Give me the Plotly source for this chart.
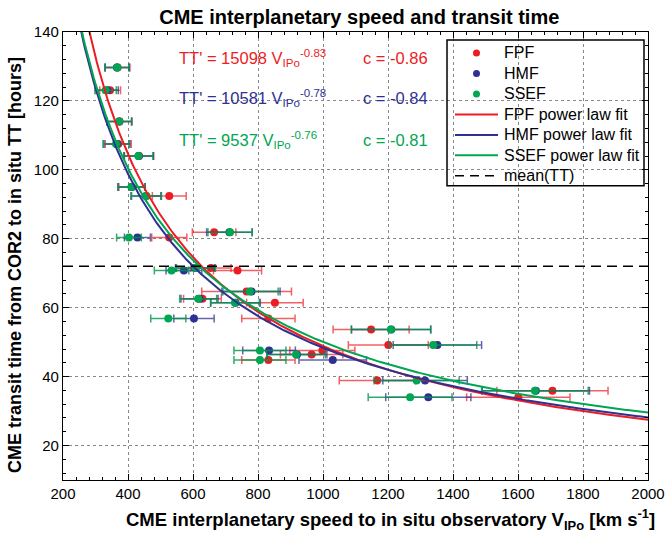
import numpy as np
import plotly.graph_objects as go

# ---- data ----
tt = [129.7, 123.1, 114.0, 107.5, 104.0, 95.0, 92.4, 81.9, 80.4, 71.5, 70.8, 64.7,
      62.6, 61.4, 56.9, 53.7, 49.2, 47.6, 46.4, 44.8, 38.9, 35.9, 34.0]
v_fpf = [368, 345, 374, 370, 434, 412, 527, 665, 527, 655, 737, 765,
         629, 852, 832, 1148, 1201, 998, 965, 832, 1167, 1706, 1601]
v_hmf = [366, 336, 373, 366, 433, 411, 455, 712, 429, 606, 572, 780,
         620, 731, 603, 1210, 1352, 834, 920, 1030, 1314, 1655, 1324]
v_ssef = [367, 331, 373, 363, 432, 411, 457, 714, 403, 609, 534, 775,
          616, 729, 524, 1209, 1339, 806, 917, 806, 1288, 1652, 1268]
e_fpf = [38, 32, 38, 40, 45, 40, 52, 67, 54, 62, 74, 138,
         58, 87, 82, 117, 123, 100, 96, 82, 117, 171, 159]
e_hmf = [37, 34, 38, 40, 45, 42, 46, 70, 40, 60, 55, 88,
         57, 76, 62, 122, 136, 81, 92, 104, 130, 165, 131]
e_ssef = [37, 33, 38, 40, 45, 42, 46, 68, 38, 60, 53, 87,
          57, 75, 54, 122, 134, 80, 90, 80, 131, 164, 129]

fit_names = ["FPF", "HMF", "SSEF"]
fit_A = [15098, 10581, 9537]
fit_b = [-0.83, -0.78, -0.76]
fit_c = [-0.86, -0.84, -0.81]
mean_tt = 72.0

colors = ["#ed1c24", "#2e3192", "#00a651"]
bar_colors = ["rgba(237,28,36,0.7)", "rgba(46,49,146,0.75)", "rgba(0,150,70,0.8)"]

# ---- plot-area geometry (pixels) ----
W, H = 669, 533
ML, MR, MT, MB = 63, 21, 32, 52.5
PW, PH = W - ML - MR, H - MT - MB


def px_x(px):
    return (px - ML) / PW


def px_y(py):
    return (H - MB - py) / PH


fig = go.Figure()

speeds = [v_fpf, v_hmf, v_ssef]
errs = [e_fpf, e_hmf, e_ssef]
for name, v, e, col, bc in zip(fit_names, speeds, errs, colors, bar_colors):
    fig.add_trace(go.Scatter(
        x=v, y=tt, mode="markers", name=name, showlegend=False,
        marker=dict(color=col, size=8),
        error_x=dict(type="data", array=e, visible=True, color=bc,
                     thickness=1.5, width=4),
    ))

vgrid = np.linspace(200, 2000, 400)
for name, A, b, col in zip(fit_names, fit_A, fit_b, colors):
    fig.add_trace(go.Scatter(
        x=vgrid, y=A * vgrid ** b, mode="lines", name=f"{name} power law fit",
        showlegend=False, line=dict(color=col, width=2),
    ))

fig.add_trace(go.Scatter(
    x=[200, 2000], y=[mean_tt, mean_tt], mode="lines", name="mean(TT)",
    showlegend=False, line=dict(color="black", width=1.5, dash="10px,6px"),
))

# equation annotations
ann_y = [132.5, 120.9, 108.7]
for A, b, c, col, y in zip(fit_A, fit_b, fit_c, colors, ann_y):
    fig.add_annotation(x=550, y=y, xref="x", yref="y", xanchor="left", yanchor="middle",
                       text=f"TT' = {A} V<sub>IPo</sub><sup>{b:.2f}</sup>",
                       showarrow=False, font=dict(size=16.5, color=col))
    fig.add_annotation(x=1117, y=y, xref="x", yref="y", xanchor="left", yanchor="middle",
                       text=f"c = {c:.2f}", showarrow=False,
                       font=dict(size=16.5, color=col))

# ---- legend drawn by hand (MATLAB style, transparent box) ----
shapes = []
shapes.append(dict(type="rect", xref="paper", yref="paper",
                   x0=px_x(447), x1=px_x(644), y0=px_y(186), y1=px_y(40),
                   line=dict(color="black", width=1.5), fillcolor="rgba(0,0,0,0)"))
leg_labels = fit_names + [f"{n} power law fit" for n in fit_names] + ["mean(TT)"]
for i, lab in enumerate(leg_labels):
    yy = px_y(53 + 20.5 * i)
    if i < 3:
        shapes.append(dict(type="circle", xref="paper", yref="paper",
                           xsizemode="pixel", ysizemode="pixel",
                           xanchor=px_x(476.5), yanchor=yy,
                           x0=-3.5, x1=3.5, y0=-3.5, y1=3.5,
                           fillcolor=colors[i], line=dict(width=0)))
    elif i < 6:
        shapes.append(dict(type="line", xref="paper", yref="paper",
                           x0=px_x(455), x1=px_x(498), y0=yy, y1=yy,
                           line=dict(color=colors[i - 3], width=2)))
    else:
        shapes.append(dict(type="line", xref="paper", yref="paper",
                           x0=px_x(455), x1=px_x(498), y0=yy, y1=yy,
                           line=dict(color="black", width=1.5, dash="9px,6px")))
    fig.add_annotation(x=px_x(502), y=yy, xref="paper", yref="paper",
                       xanchor="left", yanchor="middle", text=lab, showarrow=False,
                       font=dict(size=16, color="black"))

# axis titles as annotations
fig.add_annotation(x=0.559, y=-0.088, xref="paper", yref="paper",
                   text="<b>CME interplanetary speed to in situ observatory V<sub>IPo</sub> [km s<sup>-1</sup>]</b>",
                   showarrow=False, xanchor="center", yanchor="middle",
                   font=dict(size=18.5, color="black"))
fig.add_annotation(x=-0.082, y=0.48, xref="paper", yref="paper",
                   text="<b>CME transit time from COR2 to in situ TT [hours]</b>",
                   showarrow=False, textangle=-90, xanchor="center", yanchor="middle",
                   font=dict(size=18, color="black"))

axis_common = dict(
    showline=True, linecolor="black", linewidth=1.2, mirror="ticks",
    ticks="inside", ticklen=6, tickcolor="black", tickwidth=1,
    showgrid=True, gridcolor="#888888", griddash="dot", gridwidth=1,
    zeroline=False, tickfont=dict(size=15, color="black"), automargin=False,
)
fig.update_xaxes(range=[200, 2000], dtick=200, tick0=200,
                 minor=dict(dtick=40, ticks="inside", ticklen=3, tickcolor="black", showgrid=False),
                 **axis_common)
fig.update_yaxes(range=[10, 140], dtick=20, tick0=0,
                 minor=dict(dtick=4, ticks="inside", ticklen=3, tickcolor="black", showgrid=False),
                 **axis_common)

fig.update_layout(
    width=W, height=H,
    margin=dict(l=ML, r=MR, t=MT, b=MB, autoexpand=False),
    paper_bgcolor="white", plot_bgcolor="white",
    font=dict(family="Liberation Sans, Arial, sans-serif", color="black"),
    title=dict(text="<b>CME interplanetary speed and transit time</b>",
               x=0.537, xanchor="center", y=0.969, yanchor="middle", yref="container",
               font=dict(size=20, color="black")),
    shapes=shapes,
    showlegend=False,
)

fig.write_html("out.html")
